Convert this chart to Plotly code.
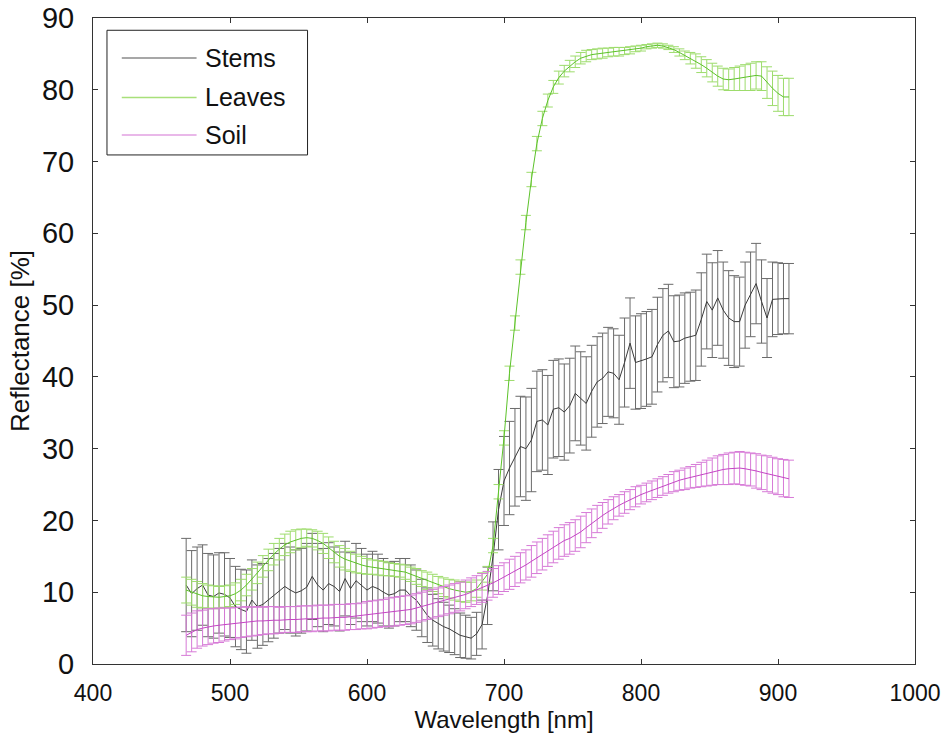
import plotly.graph_objects as go

# wavelengths sampled every 4 nm
wavelength = list(range(468, 909, 4))

stems_mean = [
    11.0, 9.8, 10.5, 11.0, 9.6, 9.4, 9.9, 9.7, 9.2, 8.0,
    7.6, 7.3, 8.9, 8.0, 8.3, 8.9, 9.5, 10.2, 10.8, 10.3,
    9.9, 10.2, 10.7, 12.2, 11.0, 10.3, 11.2, 10.8, 10.1, 11.9,
    10.5, 11.6, 11.0, 10.3, 10.8, 10.5, 10.0, 9.6, 9.8, 10.3,
    10.3, 9.5, 8.9, 7.8, 6.8, 6.1, 5.6, 5.2, 4.9, 4.5,
    4.0, 3.8, 3.6, 4.2, 5.5, 9.5, 15.0, 21.5, 25.5, 27.3,
    28.8, 30.3, 30.0, 31.2, 33.8, 34.0, 33.3, 35.5, 35.7, 35.1,
    36.0, 37.7, 37.0, 36.3, 38.0, 39.3, 39.8, 40.7, 40.5, 39.6,
    42.0, 44.7, 42.0, 42.2, 42.5, 42.8, 44.5, 45.8, 46.4, 44.9,
    45.0, 45.4, 45.6, 45.8, 48.0, 50.5, 49.3, 51.0, 49.3, 48.2,
    47.7, 47.7, 50.0, 51.5, 53.0, 50.5, 48.2, 50.8, 50.9, 50.9,
    50.9,
]
stems_err = [
    6.5, 6.0, 5.8, 5.6, 5.8, 5.8, 5.6, 5.8, 5.5, 5.6,
    5.6, 5.8, 5.6, 5.8, 5.7, 5.8, 5.9, 5.9, 6.0, 6.0,
    6.0, 5.9, 6.1, 6.0, 5.8, 5.8, 5.7, 5.5, 5.5, 5.2,
    5.0, 5.2, 5.1, 5.0, 4.9, 4.8, 4.7, 4.6, 4.5, 4.4,
    4.4, 4.3, 4.2, 4.0, 3.8, 3.6, 3.5, 3.4, 3.3, 3.2,
    3.1, 3.0, 2.9, 3.0, 3.4, 4.0, 4.8, 5.6, 6.2, 6.5,
    6.8, 7.0, 7.2, 7.2, 7.0, 7.0, 6.9, 6.8, 6.8, 6.7,
    6.6, 6.6, 6.5, 6.5, 6.4, 6.3, 6.3, 6.2, 6.2, 6.2,
    6.2, 6.3, 6.5, 6.6, 6.6, 6.6, 6.6, 6.5, 6.5, 6.4,
    6.4, 6.3, 6.2, 6.3, 6.5, 6.6, 6.6, 6.6, 6.7, 6.6,
    6.4, 6.2, 6.0, 5.9, 5.6, 5.8, 5.5, 5.2, 5.0, 4.9,
    4.9,
]

leaves_mean = [
    10.3, 10.0, 9.7, 9.5, 9.4, 9.3, 9.3, 9.4, 9.5, 9.8,
    10.3, 11.0, 11.8, 12.7, 13.6, 14.5, 15.3, 16.0, 16.6, 17.0,
    17.3, 17.5, 17.6, 17.5, 17.2, 16.8, 16.2, 15.6, 15.0, 14.6,
    14.3, 14.0, 13.8, 13.6, 13.5, 13.4, 13.3, 13.2, 13.1, 13.0,
    12.8, 12.5, 12.2, 11.9, 11.6, 11.3, 11.0, 10.7, 10.5, 10.3,
    10.1, 10.0, 10.1, 10.5, 11.5, 12.5, 16.5, 24.0, 31.5, 40.5,
    47.5, 55.3, 61.5, 67.5, 72.5, 76.0, 78.5, 80.4, 81.7, 82.6,
    83.3, 83.9, 84.4, 84.7, 84.9, 85.0, 85.1, 85.2, 85.3, 85.3,
    85.4, 85.5, 85.7, 85.8, 86.0, 86.1, 86.2, 86.1, 85.9, 85.6,
    85.2, 84.8, 84.4, 84.0, 83.5, 83.0, 82.4, 81.9, 81.5, 81.4,
    81.5, 81.6, 81.7, 81.8, 82.0, 81.9, 81.0, 80.2, 79.5, 79.0,
    79.0,
]
leaves_err = [
    1.8, 1.8, 1.8, 1.7, 1.6, 1.6, 1.5, 1.5, 1.5, 1.5,
    1.5, 1.5, 1.5, 1.5, 1.5, 1.5, 1.5, 1.5, 1.5, 1.5,
    1.4, 1.3, 1.2, 1.2, 1.3, 1.4, 1.5, 1.5, 1.5, 1.5,
    1.4, 1.3, 1.2, 1.1, 1.0, 1.0, 1.0, 0.9, 0.9, 0.9,
    1.0, 1.0, 1.1, 1.1, 1.2, 1.2, 1.2, 1.3, 1.3, 1.4,
    1.4, 1.4, 1.3, 1.2, 1.2, 1.1, 1.0, 1.0, 1.0, 1.0,
    1.0, 1.0, 1.0, 1.0, 1.0, 1.0, 0.9, 0.9, 0.9, 0.8,
    0.8, 0.8, 0.8, 0.8, 0.7, 0.7, 0.7, 0.6, 0.6, 0.6,
    0.5, 0.5, 0.4, 0.4, 0.3, 0.3, 0.3, 0.3, 0.3, 0.4,
    0.5, 0.6, 0.8, 1.0, 1.1, 1.2, 1.3, 1.4, 1.5, 1.5,
    1.6, 1.7, 1.8, 1.9, 1.9, 2.0, 2.2, 2.4, 2.5, 2.6,
    2.6,
]

soil_mean = [
    4.0, 4.4, 4.8, 5.0, 5.2, 5.3, 5.4, 5.5, 5.6, 5.7,
    5.8, 5.9, 5.9, 6.0, 6.0, 6.1, 6.1, 6.1, 6.2, 6.2,
    6.2, 6.3, 6.3, 6.3, 6.4, 6.4, 6.4, 6.5, 6.5, 6.5,
    6.6, 6.6, 6.7, 6.8, 6.9, 7.0, 7.1, 7.2, 7.3, 7.4,
    7.5, 7.6, 7.8, 8.0, 8.2, 8.4, 8.6, 8.8, 9.0, 9.2,
    9.4, 9.7, 10.0, 10.3, 10.6, 10.9, 11.3, 11.7, 12.1, 12.5,
    12.9, 13.4, 13.8, 14.3, 14.8, 15.3, 15.8, 16.3, 16.8, 17.2,
    17.5, 17.9, 18.4, 19.0, 19.6, 20.2, 20.7, 21.2, 21.7, 22.1,
    22.5, 22.9, 23.3, 23.6, 23.9, 24.2, 24.5, 24.8, 25.1, 25.4,
    25.6, 25.8, 26.0, 26.2, 26.4, 26.6, 26.8, 27.0, 27.1, 27.2,
    27.3, 27.3, 27.2, 27.1, 26.9, 26.7, 26.5, 26.3, 26.1, 25.9,
    25.8,
]
soil_err = [
    2.8, 2.7, 2.6, 2.5, 2.5, 2.4, 2.4, 2.3, 2.2, 2.2,
    2.1, 2.1, 2.0, 2.0, 1.9, 1.9, 1.9, 1.8, 1.8, 1.8,
    1.8, 1.8, 1.8, 1.8, 1.8, 1.8, 1.8, 1.8, 1.8, 1.8,
    1.8, 1.8, 1.8, 1.9, 1.9, 1.9, 1.9, 2.0, 2.0, 2.0,
    2.0, 2.0, 2.0, 2.0, 2.0, 2.0, 2.0, 2.0, 2.0, 2.0,
    2.0, 2.0, 2.0, 2.0, 2.0, 2.0, 2.0, 2.0, 2.0, 2.1,
    2.1, 2.1, 2.1, 2.2, 2.2, 2.2, 2.2, 2.2, 2.2, 2.2,
    2.2, 2.2, 2.2, 2.1, 2.0, 1.9, 1.8, 1.7, 1.6, 1.5,
    1.5, 1.4, 1.4, 1.3, 1.3, 1.3, 1.3, 1.3, 1.3, 1.4,
    1.4, 1.5, 1.5, 1.6, 1.7, 1.8, 1.9, 2.0, 2.1, 2.2,
    2.2, 2.3, 2.3, 2.3, 2.4, 2.4, 2.5, 2.5, 2.5, 2.6,
    2.6,
]

x_ticks = [400, 500, 600, 700, 800, 900, 1000]
y_ticks = [0, 10, 20, 30, 40, 50, 60, 70, 80, 90]

series = [
    ("Stems", stems_mean, stems_err, "#3a3a3a", "#6a6a6a", "#8a8a8a"),
    ("Leaves", leaves_mean, leaves_err, "#5cc22a", "#9ddc6c", "#a8e07a"),
    ("Soil", soil_mean, soil_err, "#c445c4", "#d77ad7", "#e2a0e2"),
]

arial = "Liberation Sans, Arial"

fig = go.Figure()
for name, mean, err, line_color, bar_color, legend_color in series:
    fig.add_trace(go.Scatter(
        x=wavelength,
        y=mean,
        mode="lines",
        name=name,
        line=dict(color=line_color, width=1),
        error_y=dict(type="data", array=err, visible=True,
                     color=bar_color, thickness=1, width=5),
        showlegend=False
    ))

# MATLAB style legend box drawn by hand
fig.add_shape(type="rect", xref="x domain", yref="y domain",
              x0=0.017, x1=0.261, y0=0.788, y1=0.981,
              line=dict(color="#222", width=1), fillcolor="white", layer="above")
legend_y = [0.938, 0.877, 0.819]
for (name, _, _, _, _, legend_color), ly in zip(series, legend_y):
    fig.add_shape(type="line", xref="x domain", yref="y domain",
                  x0=0.035, x1=0.126, y0=ly, y1=ly,
                  line=dict(color=legend_color, width=1.5), layer="above")
    fig.add_annotation(xref="x domain", yref="y domain", x=0.134, y=ly,
                       text=name, showarrow=False, xanchor="left", yanchor="middle",
                       font=dict(family=arial, size=25, color="#111"))

fig.update_layout(
    width=943,
    height=745,
    margin=dict(l=93, r=28, t=18, b=81, autoexpand=False),
    plot_bgcolor="white",
    paper_bgcolor="white",
    xaxis=dict(
        range=[400, 1000],
        tickvals=x_ticks,
        ticks="inside",
        ticklen=5,
        tickcolor="#333",
        showline=True,
        linecolor="#333",
        mirror="ticks",
        showgrid=False,
        zeroline=False,
        automargin=False,
        ticklabeloverflow="allow",
        ticklabelstandoff=8,
        tickfont=dict(family=arial, size=23, color="#111"),
        title=dict(text="Wavelength [nm]", standoff=6,
                   font=dict(family=arial, size=24, color="#111"))
    ),
    yaxis=dict(
        range=[0, 90],
        tickvals=y_ticks,
        ticks="inside",
        ticklen=5,
        tickcolor="#333",
        showline=True,
        linecolor="#333",
        mirror="ticks",
        showgrid=False,
        zeroline=False,
        automargin=False,
        ticklabeloverflow="allow",
        ticklabelstandoff=12,
        tickfont=dict(family=arial, size=29, color="#111"),
        title=dict(text="Reflectance [%]", standoff=4,
                   font=dict(family=arial, size=26, color="#111"))
    )
)

fig.write_html("out.html", config={"displayModeBar": False},
               post_script="document.body.style.margin='0';")
